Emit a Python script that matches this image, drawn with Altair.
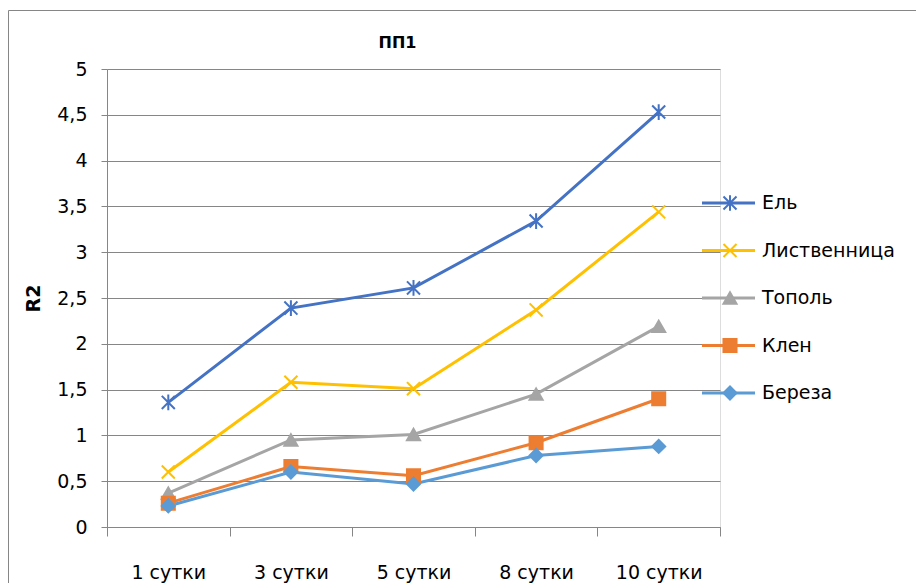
import altair as alt
import pandas as pd

categories = ["1 сутки", "3 сутки", "5 сутки", "8 сутки", "10 сутки"]
series_names = ["Ель", "Лиственница", "Тополь", "Клен", "Береза"]
el = [1.36, 2.39, 2.61, 3.34, 4.53]
listvennitsa = [0.60, 1.58, 1.51, 2.37, 3.44]
topol = [0.37, 0.95, 1.01, 1.45, 2.19]
klen = [0.26, 0.66, 0.56, 0.92, 1.40]
bereza = [0.23, 0.60, 0.47, 0.78, 0.88]
y_ticks = [0, 0.5, 1, 1.5, 2, 2.5, 3, 3.5, 4, 4.5, 5]
chart_title = "ПП1"
y_title = "R2"

colors = ["#4472C4", "#FFC000", "#A5A5A5", "#ED7D31", "#5B9BD5"]
fills = ["transparent", "transparent", "#A5A5A5", "#ED7D31", "#5B9BD5"]
shapes = [
    "M-1,-1L1,1M-1,1L1,-1M0,-1.2L0,1.2",
    "M-1,-1L1,1M-1,1L1,-1",
    "triangle-up",
    "square",
    "diamond",
]

values = [el, listvennitsa, topol, klen, bereza]
rows = []
for name, vals in zip(series_names, values):
    for i, (c, v) in enumerate(zip(categories, vals)):
        rows.append({"series": name, "cat": c, "pos": i + 0.5, "value": v})
df = pd.DataFrame(rows)
legend_df = pd.DataFrame({"series": series_names, "rank": list(range(len(series_names)))})

FONT = "DejaVu Sans"
GRAY = "#868686"
W, H = 613, 458
FS = 19

cat_js = "[" + ",".join("'" + c + "'" for c in categories) + "]"

x_enc = alt.X(
    "pos:Q",
    scale=alt.Scale(domain=[0, len(categories)], nice=False, zero=False),
    axis=alt.Axis(
        values=list(range(len(categories) + 1)),
        labelExpr=f"datum.value < {len(categories)} ? {cat_js}[datum.value] : ''",
        labelOffset=W / len(categories) / 2,
        labelFlush=False,
        labelOverlap=False,
        grid=False,
        tickSize=9,
        tickColor=GRAY,
        domainColor=GRAY,
        labelPadding=27,
        labelFontSize=FS,
        labelFont=FONT,
        labelColor="#000000",
        title=None,
    ),
)
y_enc = alt.Y(
    "value:Q",
    scale=alt.Scale(domain=[0, 5], nice=False),
    axis=alt.Axis(
        values=y_ticks,
        labelExpr="replace(format(datum.value, '.1~f'), '.', ',')",
        grid=True,
        gridColor=GRAY,
        gridWidth=1,
        tickSize=6,
        tickColor=GRAY,
        domainColor=GRAY,
        labelPadding=14,
        labelFontSize=FS,
        labelFont=FONT,
        labelColor="#000000",
        title=y_title,
        titleFont=FONT,
        titleFontSize=19,
        titleFontWeight="bold",
        titleColor="#000000",
        titleX=-74,
        titleY=H / 2,
        titleAngle=270,
        titleAlign="center",
        titleBaseline="middle",
    ),
)

color_scale = alt.Scale(domain=series_names, range=colors)
stroke_scale = alt.Scale(domain=series_names, range=colors)
fill_scale = alt.Scale(domain=series_names, range=fills)
shape_scale = alt.Scale(domain=series_names, range=shapes)

border = alt.Chart(pd.DataFrame({"a": [0]})).mark_rect(
    fillOpacity=0, stroke=GRAY, strokeWidth=1
).encode(
    x=alt.value(-98.5), x2=alt.value(W + 400), y=alt.value(-58.5), y2=alt.value(H + 200)
)

lines = alt.Chart(df).mark_line(strokeWidth=3).encode(
    x=x_enc,
    y=y_enc,
    color=alt.Color("series:N", scale=color_scale, legend=None),
    order=alt.Order("pos:Q"),
)

points = alt.Chart(df).mark_point(strokeWidth=2, opacity=1, size=170).encode(
    x=x_enc,
    y=y_enc,
    stroke=alt.Stroke("series:N", scale=stroke_scale, legend=None),
    fill=alt.Fill("series:N", scale=fill_scale, legend=None),
    shape=alt.Shape("series:N", scale=shape_scale, legend=None),
)

main = alt.layer(border, lines, points)

leg_y = alt.Y(
    "rank:Q",
    scale=alt.Scale(domain=[0, len(series_names) - 1], range=[134, 324], nice=False, zero=False),
    axis=None,
)

leg_rule = alt.Chart(legend_df).mark_rule(strokeWidth=3).encode(
    x=alt.value(595),
    x2=alt.value(648),
    y=leg_y,
    color=alt.Color("series:N", scale=color_scale, legend=None),
)
leg_pt = alt.Chart(legend_df).mark_point(strokeWidth=2, opacity=1, size=170).encode(
    x=alt.value(623),
    y=leg_y,
    stroke=alt.Stroke("series:N", scale=stroke_scale, legend=None),
    fill=alt.Fill("series:N", scale=fill_scale, legend=None),
    shape=alt.Shape("series:N", scale=shape_scale, legend=None),
)
leg_text = alt.Chart(legend_df).mark_text(
    align="left", baseline="middle", font=FONT, fontSize=FS, color="#000000"
).encode(
    x=alt.value(655),
    y=leg_y,
    text="series:N",
)
legend = alt.layer(leg_rule, leg_pt, leg_text)

chart = (
    alt.layer(main, legend)
    .resolve_scale(y="independent")
    .properties(
        width=W,
        height=H,
        autosize=alt.AutoSizeParams(type="none"),
        padding={"left": 99, "top": 61, "right": 196, "bottom": 56},
        title=alt.TitleParams(
            text=chart_title,
            font=FONT,
            fontSize=16,
            fontWeight="bold",
            color="#000000",
            anchor="middle",
            dx=-16,
            dy=49,
            offset=8,
        ),
    )
    .configure_view(stroke=None)
    .configure(background="white")
)

chart.save("out.html", embed_options={"renderer": "svg", "actions": False})
